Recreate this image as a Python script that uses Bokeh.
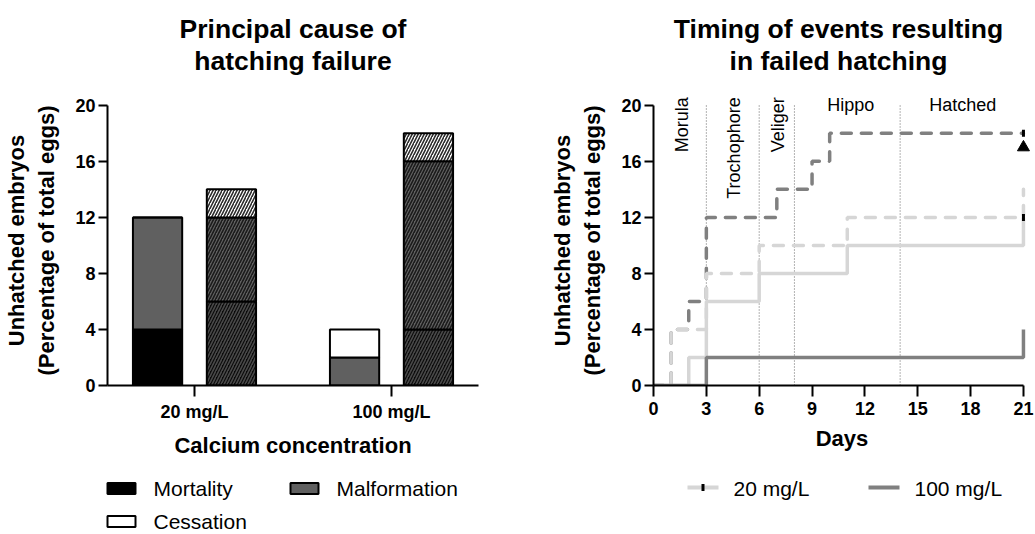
import numpy as np
from bokeh.plotting import figure
from bokeh.layouts import row, column
from bokeh.models import Range1d, FixedTicker, Label
from bokeh.embed import file_html
from bokeh.resources import INLINE
from bokeh.core.properties import value

FONT = "Liberation Sans"

# ---- Principal cause of hatching failure (% of total eggs) ----
concentrations = ["20 mg/L", "100 mg/L"]
causes = ["Mortality", "Malformation", "Cessation"]
# left bar of each pair (plain fill)
plain_mortality = [4, 0]
plain_malformation = [8, 2]
plain_cessation = [0, 2]
# right bar of each pair (hatched fill)
hatched_mortality = [6, 4]
hatched_malformation = [6, 12]
hatched_cessation = [2, 2]

# ---- Timing of events resulting in failed hatching ----
# cumulative unhatched embryos (%) at each day where the count changes
low_solid_days = [0, 2, 3, 6, 11, 21]
low_solid_pct = [0, 2, 6, 8, 10, 12]
low_dashed_days = [0, 1, 3, 6, 11, 21]
low_dashed_pct = [0, 4, 8, 10, 12, 14]
high_solid_days = [0, 3, 21]
high_solid_pct = [0, 2, 4]
high_dashed_days = [0, 1, 2, 3, 7, 9, 10, 21]
high_dashed_pct = [0, 4, 6, 12, 14, 16, 18, 18]
censor_days = [21, 21]
censor_pct = [18, 12]
triangle_day = [21]
triangle_pct = [17]

stage_names = ["Morula", "Trochophore", "Veliger", "Hippo", "Hatched"]
stage_label_days = [1.6, 4.55, 7.05, 11.2, 17.55]
stage_bounds = [3, 6, 8, 14]
day_ticks = [0, 3, 6, 9, 12, 15, 18, 21]
pct_ticks = [0, 4, 8, 12, 16, 20]
legend_concs = ["20 mg/L", "100 mg/L"]

titles_left = ["Principal cause of", "hatching failure"]
titles_right = ["Timing of events resulting", "in failed hatching"]

BLACK = "#000000"
MALF_GREY = "#606060"
LIGHT = "#d6d6d6"
DARK = "#808080"

Y_LABEL = "Unhatched embryos\n(Percentage of total eggs)"

# page geometry (pixels)
PAGE_W = 1035
Y_TOP = 20.7        # frame reaches a little above the last tick for the stage labels
PX_PER_PCT = 14
FRAME_BOTTOM = 385
TOP_H = int(round(FRAME_BOTTOM - Y_TOP * PX_PER_PCT))   # strip holding the titles
PLOT_H = FRAME_BOTTOM - TOP_H + 75                         # chart area incl. x axis
LEG_H = 534 - TOP_H - PLOT_H                               # strip holding the legends
LEFT_W = 540
RIGHT_W = PAGE_W - LEFT_W
L_FRAME = (107, 478)
R_FRAME = (653, 1030)


def style_axes(p):
    for ax in p.axis:
        ax.axis_line_width = 2
        ax.axis_line_color = "black"
        ax.major_tick_line_width = 2
        ax.major_tick_line_color = "black"
        ax.major_tick_in = 0
        ax.minor_tick_line_color = None
        ax.major_label_text_font = FONT
        ax.major_label_text_font_style = "bold"
        ax.major_label_text_font_size = "18px"
        ax.major_label_text_color = "black"
        ax.axis_label_text_font = FONT
        ax.axis_label_text_font_style = "bold"
        ax.axis_label_text_font_size = "22px"
        ax.axis_label_text_color = "black"
    p.xaxis.major_tick_out = 11
    p.yaxis.major_tick_out = 9
    p.xaxis.major_label_standoff = 5
    p.yaxis.major_label_standoff = 3
    p.xaxis.axis_label_standoff = 8
    p.yaxis.axis_label_standoff = 13
    p.yaxis.bounds = (pct_ticks[0], pct_ticks[-1])
    p.yaxis.ticker = FixedTicker(ticks=pct_ticks)
    p.yaxis.axis_label = Y_LABEL
    p.grid.visible = False
    p.outline_line_color = None


def strip(height):
    s = figure(width=PAGE_W, height=height, x_range=Range1d(0, PAGE_W),
               y_range=Range1d(height, 0), x_axis_location=None, y_axis_location=None,
               output_backend="svg", toolbar_location=None, min_border=0)
    s.outline_line_color = None
    s.grid.visible = False
    return s


# ---------------- titles strip ----------------
top = strip(TOP_H)
title_cx = [(L_FRAME[0] + L_FRAME[1]) / 2, (R_FRAME[0] + 1023) / 2]
title_rows = [28, 60]
for cxv, lines in zip(title_cx, [titles_left, titles_right]):
    top.text(x=[cxv] * len(lines), y=title_rows, text=lines, text_align="center",
             text_baseline="middle", text_font=value(FONT), text_font_size="26.5px",
             text_font_style="bold", text_color="black")

# ---------------- bar chart ----------------
p1 = figure(width=LEFT_W, height=PLOT_H, x_range=Range1d(-0.4416, 1.4416),
            y_range=Range1d(0, Y_TOP), output_backend="svg", toolbar_location=None,
            title=None, min_border_left=L_FRAME[0], min_border_right=LEFT_W - L_FRAME[1],
            min_border_top=0, min_border_bottom=75)

x_cat = np.arange(len(concentrations), dtype=float)
bar_w = 0.25
bar_off = 0.1875


def draw_stack(p, xs, layers, fills, hatch_colors):
    bottom = np.zeros(len(xs))
    for vals, fc, hc in zip(layers, fills, hatch_colors):
        topv = bottom + np.array(vals, dtype=float)
        kw = {}
        if hc is not None:
            kw = dict(hatch_pattern="/", hatch_color=hc, hatch_scale=6, hatch_weight=1.6)
        p.vbar(x=xs, bottom=bottom, top=topv, width=bar_w, fill_color=fc,
               line_color="black", line_width=2, **kw)
        bottom = topv


draw_stack(p1, x_cat - bar_off,
           [plain_mortality, plain_malformation, plain_cessation],
           [BLACK, MALF_GREY, "white"], [None, None, None])
draw_stack(p1, x_cat + bar_off,
           [hatched_mortality, hatched_malformation, hatched_cessation],
           ["#0a0a0a", MALF_GREY, "white"], ["#4a4a4a", "#1a1a1a", "#2a2a2a"])

style_axes(p1)
p1.xaxis.ticker = FixedTicker(ticks=list(x_cat))
p1.xaxis.major_label_overrides = {float(i): c for i, c in enumerate(concentrations)}
p1.xaxis.axis_label = "Calcium concentration"

# ---------------- timing chart ----------------
p2 = figure(width=RIGHT_W, height=PLOT_H, x_range=Range1d(0, 21.4),
            y_range=Range1d(0, Y_TOP), output_backend="svg", toolbar_location=None,
            title=None, min_border_left=R_FRAME[0] - LEFT_W,
            min_border_right=PAGE_W - R_FRAME[1], min_border_top=0, min_border_bottom=75)

# developmental stage boundaries
p2.segment(x0=stage_bounds, y0=[pct_ticks[0]] * len(stage_bounds), x1=stage_bounds,
           y1=[pct_ticks[-1]] * len(stage_bounds), line_color="#666666", line_width=1,
           line_dash="1 2")

dash_kw = dict(line_width=3.5, line_dash="10 10", line_cap="round")
p2.step(high_dashed_days, high_dashed_pct, mode="after", line_color=DARK, **dash_kw)
p2.step(low_solid_days, low_solid_pct, mode="after", line_color=LIGHT, line_width=3.5)
p2.step(low_dashed_days, low_dashed_pct, mode="after", line_color=LIGHT, **dash_kw)
p2.step(high_solid_days, high_solid_pct, mode="after", line_color=DARK, line_width=3.5)
p2.scatter(censor_days, censor_pct, marker="dash", angle=np.pi / 2, size=7,
           line_width=3, line_color="black")
p2.scatter(triangle_day, triangle_pct, marker="triangle", size=12,
           fill_color="black", line_color="black")

for name, d in zip(stage_names, stage_label_days):
    if name in ("Hippo", "Hatched"):
        lab = Label(x=d, y=pct_ticks[-1], text=name, text_align="center",
                    text_baseline="middle")
    else:
        lab = Label(x=d, y=20.57, text=name, angle=np.pi / 2,
                    text_align="right", text_baseline="middle")
    lab.text_font = FONT
    lab.text_font_size = "18px"
    lab.text_color = "black"
    p2.add_layout(lab)

style_axes(p2)
p2.xaxis.ticker = FixedTicker(ticks=day_ticks)
p2.xaxis.bounds = (day_ticks[0], day_ticks[-1])
p2.xaxis.axis_label = "Days"

# ---------------- legends strip ----------------
leg = strip(LEG_H)

# cause swatches, two per row
col_left = [107, 290]
row_mid = [28, 61]
sw_w, sw_h, txt_gap = 28, 11, 46
cx = [col_left[i % 2] for i in range(len(causes))]
cy = [row_mid[i // 2] for i in range(len(causes))]
leg.rect(x=[c + sw_w / 2 for c in cx], y=cy, width=sw_w, height=sw_h,
         fill_color=[BLACK, MALF_GREY, "white"], line_color="black", line_width=2)
leg.text(x=[c + txt_gap for c in cx], y=cy, text=causes, text_baseline="middle",
         text_font=value(FONT), text_font_size="21px", text_color="black")

# concentration line samples
line_left = [687, 868]
line_len = 31
line_y = 27
leg.segment(x0=line_left, y0=[line_y] * 2, x1=[x + line_len for x in line_left],
            y1=[line_y] * 2, line_color=[LIGHT, DARK], line_width=4)
leg.scatter(x=[line_left[0] + line_len / 2], y=[line_y], marker="dash", angle=np.pi / 2,
            size=7, line_width=3, line_color="black")
leg.text(x=[x + line_len + 15 for x in line_left], y=[line_y + 1] * 2, text=legend_concs,
         text_baseline="middle", text_font=value(FONT), text_font_size="21px",
         text_color="black")

layout = column(top, row(p1, p2), leg)
open("out.html", "w").write(file_html(layout, INLINE))
